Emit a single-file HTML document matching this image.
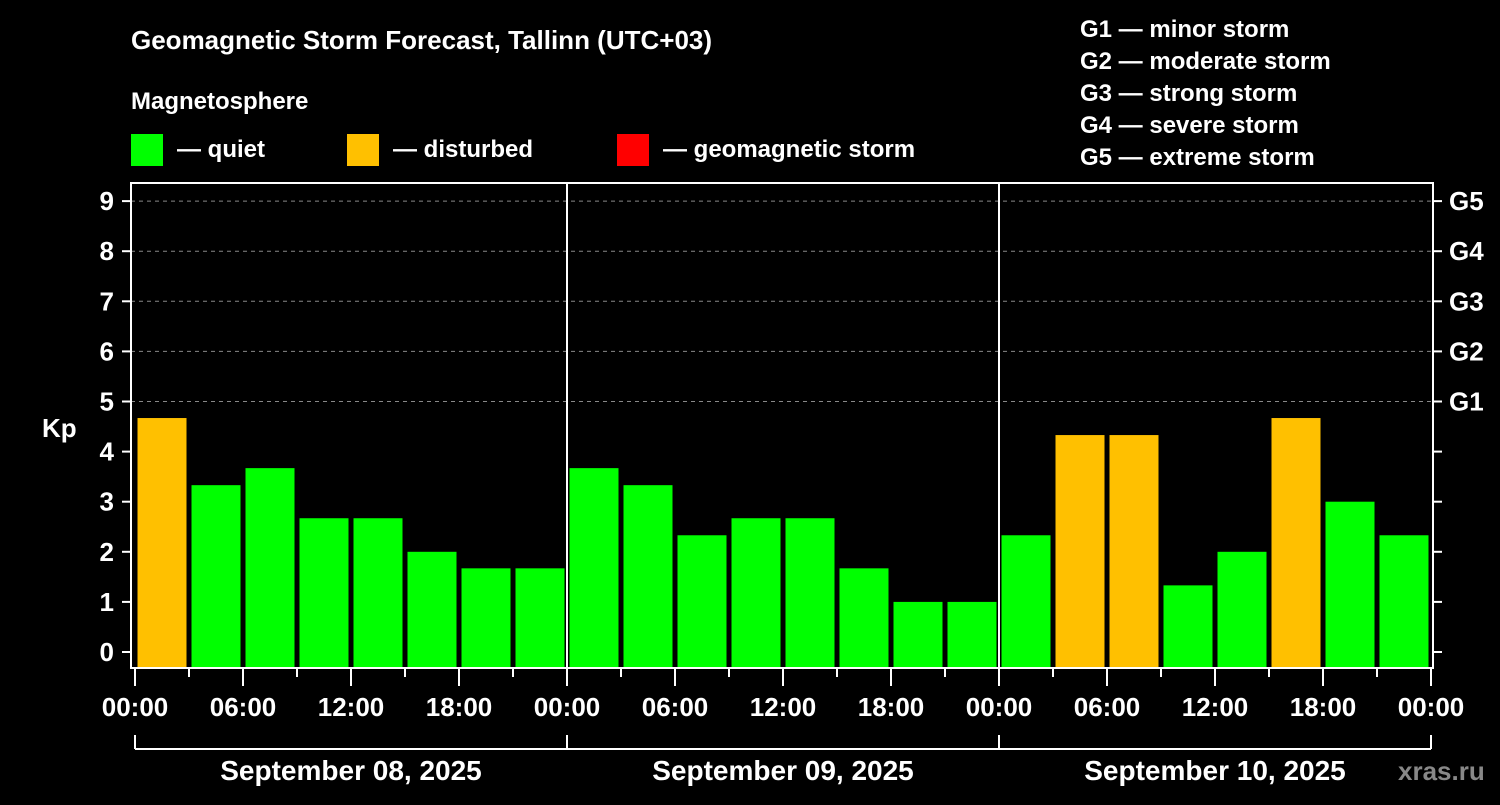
<!DOCTYPE html>
<html><head><meta charset="utf-8"><style>
body{margin:0;background:#000;width:1500px;height:800px;overflow:hidden}
svg text{font-family:"Liberation Sans",sans-serif;font-weight:bold;fill:#fff}
</style></head><body>
<svg id="c" width="1500" height="800" xmlns="http://www.w3.org/2000/svg">
<text x="131" y="49" font-size="26">Geomagnetic Storm Forecast, Tallinn (UTC+03)</text>
<text x="131" y="109" font-size="24">Magnetosphere</text>
<rect x="131" y="134" width="32" height="32" fill="#00ff00"/>
<text x="177" y="157" font-size="24">— quiet</text>
<rect x="347" y="134" width="32" height="32" fill="#ffc000"/>
<text x="393" y="157" font-size="24">— disturbed</text>
<rect x="617" y="134" width="32" height="32" fill="#ff0000"/>
<text x="663" y="157" font-size="24">— geomagnetic storm</text>
<g font-size="24">
<text x="1080" y="37">G1 — minor storm</text>
<text x="1080" y="69">G2 — moderate storm</text>
<text x="1080" y="101">G3 — strong storm</text>
<text x="1080" y="133">G4 — severe storm</text>
<text x="1080" y="165">G5 — extreme storm</text>
</g>
<text x="42" y="437" font-size="26">Kp</text>
<text x="1398" y="780" font-size="26" style="fill:#888">xras.ru</text>
<g id="plot"></g>
</svg>
<script>
const values=[4.67,3.33,3.67,2.67,2.67,2.0,1.67,1.67, 3.67,3.33,2.33,2.67,2.67,1.67,1.0,1.0, 2.33,4.33,4.33,1.33,2.0,4.67,3.0,2.33];
const yTicks=[0,1,2,3,4,5,6,7,8,9];
const gLabels=["G1","G2","G3","G4","G5"];
const xLabels=["00:00","06:00","12:00","18:00"];
const dates=["September 08, 2025","September 09, 2025","September 10, 2025"];
const NS="http://www.w3.org/2000/svg";
const g=document.getElementById('plot');
const y=v=>652-v*50.1;
const x=i=>135+54*i;
function mk(t,a,txt){const e=document.createElementNS(NS,t);for(const k in a)e.setAttribute(k,a[k]);if(txt!==undefined)e.textContent=txt;g.appendChild(e);return e;}
yTicks.forEach(v=>{
 if(v>=5){const l=mk('line',{x1:131,x2:1433,y1:y(v),y2:y(v),stroke:'#888','stroke-dasharray':'4,4','stroke-width':1});
 }
 const t=mk('line',{x1:122,x2:131,y1:y(v),y2:y(v),stroke:'#fff','stroke-width':2});
 
 const t2=mk('line',{x1:1433,x2:1442,y1:y(v),y2:y(v),stroke:'#fff','stroke-width':2});
 
 const tl=mk('text',{x:114,y:y(v)+9,'font-size':26,'text-anchor':'end'},String(v));
 
});
gLabels.forEach((s,i)=>{const t=mk('text',{x:1449,y:y(5+i)+9,'font-size':26},s);
 });
values.forEach((v,i)=>{
 const c=v>=5?'#ff0000':(v>=4?'#ffc000':'#00ff00');
 const r=mk('rect',{x:x(i)+2.5,y:y(v),width:49,height:668-y(v),fill:c});
 
});
for(let d=1;d<3;d++){const l=mk('line',{x1:x(d*8),x2:x(d*8),y1:183,y2:668,stroke:'#fff','stroke-width':2});
 }
const f=mk('rect',{x:131,y:183,width:1302,height:485,fill:'none',stroke:'#fff','stroke-width':2});

for(let i=0;i<=24;i++){
 const maj=i%2==0;
 const t=mk('line',{x1:x(i),x2:x(i),y1:669,y2:maj?686:677,stroke:'#fff','stroke-width':2});
 
 if(maj){const tl=mk('text',{x:x(i),y:716,'font-size':26,'text-anchor':'middle'},xLabels[(i/2)%4]);
 }
}
const b=mk('line',{x1:x(0),x2:x(24),y1:749,y2:749,stroke:'#fff','stroke-width':2});

for(let d=0;d<=3;d++){const t=mk('line',{x1:x(d*8),x2:x(d*8),y1:735,y2:749,stroke:'#fff','stroke-width':2});
 }
dates.forEach((s,d)=>{const t=mk('text',{x:x(d*8+4),y:780,'font-size':28,'text-anchor':'middle'},s);
 });
</script>
</body></html>
